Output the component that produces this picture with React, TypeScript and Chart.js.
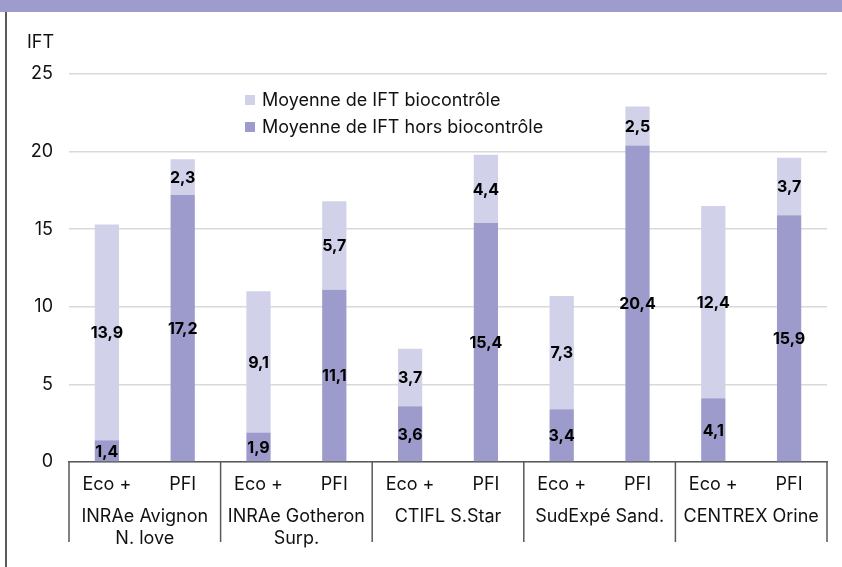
import React, { useEffect, useRef } from "react";
import { Chart, registerables } from "chart.js";

Chart.register(...registerables);

// ---- Data ----
const categories = ["Eco +", "PFI", "Eco +", "PFI", "Eco +", "PFI", "Eco +", "PFI", "Eco +", "PFI"];
const groupLabels: string[][] = [
  ["INRAe Avignon", "N. love"],
  ["INRAe Gotheron", "Surp."],
  ["CTIFL S.Star"],
  ["SudExpé Sand."],
  ["CENTREX Orine"],
];
const horsBiocontrole = [1.4, 17.2, 1.9, 11.1, 3.6, 15.4, 3.4, 20.4, 4.1, 15.9];
const biocontrole = [13.9, 2.3, 9.1, 5.7, 3.7, 4.4, 7.3, 2.5, 12.4, 3.7];
const seriesHors = "Moyenne de IFT hors biocontrôle";
const seriesBio = "Moyenne de IFT biocontrôle";
const yAxisTitle = "IFT";
const yMin = 0;
const yMax = 25;
const yStep = 5;

// ---- Styles ----
const DARK = "#9c9bcc";
const LIGHT = "#d1d1e9";
const FONT = "Inter, 'Noto Sans', sans-serif";
const TEXT = "#111111";
const AXIS = "#595959";
const FS = 18;

const customDraw = {
  id: "customDraw",
  afterDraw(chart: any) {
    const ctx = chart.ctx as CanvasRenderingContext2D;
    const xs = chart.scales.x;
    const area = chart.chartArea;
    ctx.save();

    // data labels
    ctx.font = `bold 16px ${FONT}`;
    ctx.fillStyle = "#000";
    ctx.textAlign = "center";
    ctx.textBaseline = "middle";
    chart.data.datasets.forEach((ds: any, i: number) => {
      const meta = chart.getDatasetMeta(i);
      meta.data.forEach((el: any, j: number) => {
        const p = el.getProps(["x", "y", "base"], true);
        const v = ds.data[j] as number;
        ctx.fillText(v.toFixed(1).replace(".", ","), p.x, (p.y + p.base) / 2 + 1);
      });
    });

    // x category labels
    ctx.font = `${FS}px ${FONT}`;
    ctx.fillStyle = TEXT;
    const labels = chart.data.labels as string[];
    labels.forEach((l, j) => {
      ctx.fillText(l, xs.getPixelForValue(j), area.bottom + 23);
    });

    // group dividers & labels
    const half = (xs.getPixelForValue(1) - xs.getPixelForValue(0)) / 2;
    ctx.strokeStyle = AXIS;
    ctx.lineWidth = 1.5;
    for (let g = 0; g <= groupLabels.length; g++) {
      const x = g < groupLabels.length ? xs.getPixelForValue(2 * g) - half : xs.getPixelForValue(2 * g - 1) + half;
      ctx.beginPath();
      ctx.moveTo(x, area.bottom);
      ctx.lineTo(x, area.bottom + 80);
      ctx.stroke();
    }
    groupLabels.forEach((lines, g) => {
      const cx = (xs.getPixelForValue(2 * g) + xs.getPixelForValue(2 * g + 1)) / 2;
      lines.forEach((t, k) => {
        ctx.fillText(t, cx, area.bottom + 55 + k * 22);
      });
    });

    // legend
    const entries = [chart.data.datasets[1], chart.data.datasets[0]];
    entries.forEach((ds: any, k: number) => {
      const y = 100 + k * 27;
      ctx.fillStyle = ds.backgroundColor;
      ctx.fillRect(245, y - 5, 10, 10);
      ctx.fillStyle = TEXT;
      ctx.textAlign = "left";
      ctx.fillText(ds.label, 262, y + 1);
    });

    // y title
    ctx.textAlign = "left";
    ctx.fillText(yAxisTitle, 27, 43);
    ctx.restore();
  },
};

export default function App() {
  const ref = useRef<HTMLCanvasElement>(null);
  useEffect(() => {
    if (!ref.current) return;
    const chart = new Chart(ref.current, {
      type: "bar",
      data: {
        labels: categories,
        datasets: [
          { label: seriesHors, data: horsBiocontrole, backgroundColor: DARK, stack: "s" },
          { label: seriesBio, data: biocontrole, backgroundColor: LIGHT, stack: "s" },
        ],
      },
      options: {
        responsive: false,
        animation: false,
        layout: { padding: { left: 0, top: 74, right: 15, bottom: 0 } },
        datasets: { bar: { categoryPercentage: 1, barPercentage: 0.32 } },
        plugins: { legend: { display: false }, tooltip: { enabled: false } },
        scales: {
          x: {
            stacked: true,
            grid: { display: false },
            border: { display: true, color: AXIS, width: 1.5 },
            ticks: { display: false },
            afterFit: (s: any) => {
              s.height = 105;
            },
          },
          y: {
            stacked: true,
            min: yMin,
            max: yMax,
            grid: { color: "#d9d9d9", lineWidth: 1.5, drawTicks: false },
            border: { display: false },
            ticks: { stepSize: yStep, padding: 16, color: TEXT, font: { family: FONT, size: FS } },
            afterFit: (s: any) => {
              s.width = 69;
            },
          },
        },
      },
      plugins: [customDraw],
    } as any);
    return () => chart.destroy();
  }, []);

  return (
    <div style={{ position: "fixed", left: 0, top: 0, width: 842, height: 567, background: "#fff", overflow: "hidden" }}>
      <canvas ref={ref} width={842} height={567} style={{ position: "absolute", left: 0, top: 0 }} />
      <div style={{ position: "absolute", left: 0, top: 0, width: 842, height: 12, background: "#9d9ccd" }} />
      <div style={{ position: "absolute", left: 5, top: 12, width: 2, height: 555, background: AXIS }} />
    </div>
  );
}
